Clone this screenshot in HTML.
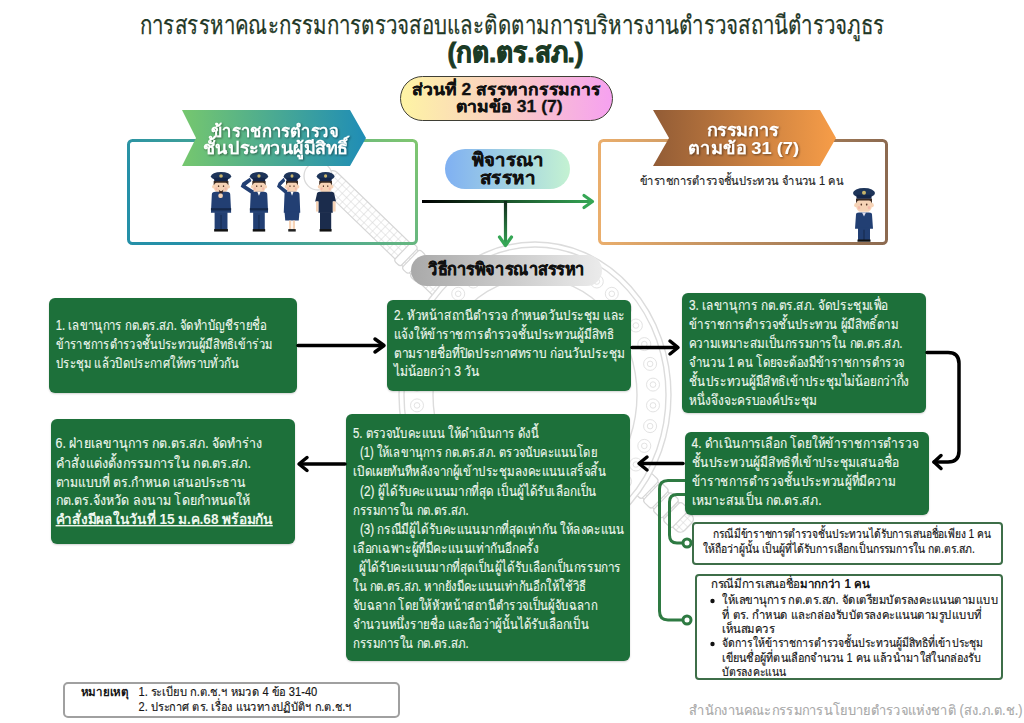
<!DOCTYPE html>
<html><head><meta charset="utf-8">
<style>
*{margin:0;padding:0;box-sizing:border-box}
html,body{width:1024px;height:723px;overflow:hidden;background:#fff}
body{position:relative;font-family:"Liberation Sans",sans-serif;color:#111}
.a{position:absolute}
.ln{position:absolute;white-space:nowrap;transform-origin:0 0}
.box{position:absolute;border-radius:6px;background:#1d703a;box-shadow:0 1px 2px rgba(0,0,0,.18)}
.wbox{position:absolute;background:#fff;border:2px solid #3d6e48;border-radius:4px}
</style></head><body>

<!-- watermark -->
<svg class="a" style="left:0;top:0" width="1024" height="723">
 <defs>
  <pattern id="net" width="6" height="6" patternUnits="userSpaceOnUse">
   <path d="M0,0 H6 M0,0 V6" stroke="#d4d4d4" stroke-width="1" fill="none"/>
  </pattern>
 </defs>
 <g transform="translate(325,176) rotate(44)">
  <rect x="0" y="-11" width="505" height="22" rx="6" fill="url(#net)" stroke="#d6d6d6" stroke-width="1.2"/>
  <rect x="108" y="-13" width="9" height="26" rx="3" fill="#fff" stroke="#d6d6d6" stroke-width="1.2"/>
  <rect x="119" y="-13" width="9" height="26" rx="3" fill="#fff" stroke="#d6d6d6" stroke-width="1.2"/>
  <rect x="130" y="-13" width="9" height="26" rx="3" fill="#fff" stroke="#d6d6d6" stroke-width="1.2"/>
  <rect x="440" y="-13" width="12" height="26" rx="3" fill="#fff" stroke="#d6d6d6" stroke-width="1.2"/>
  <rect x="454" y="-13" width="12" height="26" rx="3" fill="#fff" stroke="#d6d6d6" stroke-width="1.2"/>
  <rect x="468" y="-13" width="12" height="26" rx="3" fill="#fff" stroke="#d6d6d6" stroke-width="1.2"/>
  <rect x="482" y="-13" width="12" height="26" rx="3" fill="#fff" stroke="#d6d6d6" stroke-width="1.2"/>
 </g>
 <circle cx="318" cy="176" r="14" fill="#fff" stroke="#dadada" stroke-width="1.3"/>
 <ellipse cx="535" cy="395" rx="136" ry="153" fill="#fff"/>
 <g fill="none" stroke="#dcdcdc" stroke-width="1.4">
  <ellipse cx="535" cy="395" rx="136" ry="153"/>
  <ellipse cx="535" cy="395" rx="131" ry="148"/>
  <ellipse cx="535" cy="395" rx="102" ry="117"/>
 </g>
 <g fill="none" stroke="#e3e3e3" stroke-width="1"><circle cx="653.0" cy="405.4" r="6.5"/><circle cx="653.0" cy="405.4" r="2.8"/><circle cx="650.1" cy="426.1" r="6.5"/><circle cx="650.1" cy="426.1" r="2.8"/><circle cx="644.3" cy="445.9" r="6.5"/><circle cx="644.3" cy="445.9" r="2.8"/><circle cx="635.9" cy="464.5" r="6.5"/><circle cx="635.9" cy="464.5" r="2.8"/><circle cx="625.0" cy="481.4" r="6.5"/><circle cx="625.0" cy="481.4" r="2.8"/><circle cx="611.8" cy="496.2" r="6.5"/><circle cx="611.8" cy="496.2" r="2.8"/><circle cx="596.8" cy="508.5" r="6.5"/><circle cx="596.8" cy="508.5" r="2.8"/><circle cx="580.3" cy="518.0" r="6.5"/><circle cx="580.3" cy="518.0" r="2.8"/><circle cx="562.6" cy="524.4" r="6.5"/><circle cx="562.6" cy="524.4" r="2.8"/><circle cx="544.3" cy="527.7" r="6.5"/><circle cx="544.3" cy="527.7" r="2.8"/><circle cx="525.7" cy="527.7" r="6.5"/><circle cx="525.7" cy="527.7" r="2.8"/><circle cx="507.4" cy="524.4" r="6.5"/><circle cx="507.4" cy="524.4" r="2.8"/><circle cx="489.7" cy="518.0" r="6.5"/><circle cx="489.7" cy="518.0" r="2.8"/><circle cx="473.2" cy="508.5" r="6.5"/><circle cx="473.2" cy="508.5" r="2.8"/><circle cx="458.2" cy="496.2" r="6.5"/><circle cx="458.2" cy="496.2" r="2.8"/><circle cx="445.0" cy="481.4" r="6.5"/><circle cx="445.0" cy="481.4" r="2.8"/><circle cx="434.1" cy="464.5" r="6.5"/><circle cx="434.1" cy="464.5" r="2.8"/><circle cx="425.7" cy="445.9" r="6.5"/><circle cx="425.7" cy="445.9" r="2.8"/><circle cx="419.9" cy="426.1" r="6.5"/><circle cx="419.9" cy="426.1" r="2.8"/><circle cx="417.0" cy="405.4" r="6.5"/><circle cx="417.0" cy="405.4" r="2.8"/><circle cx="417.0" cy="384.6" r="6.5"/><circle cx="417.0" cy="384.6" r="2.8"/><circle cx="419.9" cy="363.9" r="6.5"/><circle cx="419.9" cy="363.9" r="2.8"/><circle cx="425.7" cy="344.1" r="6.5"/><circle cx="425.7" cy="344.1" r="2.8"/><circle cx="434.1" cy="325.5" r="6.5"/><circle cx="434.1" cy="325.5" r="2.8"/><circle cx="445.0" cy="308.6" r="6.5"/><circle cx="445.0" cy="308.6" r="2.8"/><circle cx="458.2" cy="293.8" r="6.5"/><circle cx="458.2" cy="293.8" r="2.8"/><circle cx="473.2" cy="281.5" r="6.5"/><circle cx="473.2" cy="281.5" r="2.8"/><circle cx="489.7" cy="272.0" r="6.5"/><circle cx="489.7" cy="272.0" r="2.8"/><circle cx="507.4" cy="265.6" r="6.5"/><circle cx="507.4" cy="265.6" r="2.8"/><circle cx="525.7" cy="262.3" r="6.5"/><circle cx="525.7" cy="262.3" r="2.8"/><circle cx="544.3" cy="262.3" r="6.5"/><circle cx="544.3" cy="262.3" r="2.8"/><circle cx="562.6" cy="265.6" r="6.5"/><circle cx="562.6" cy="265.6" r="2.8"/><circle cx="580.3" cy="272.0" r="6.5"/><circle cx="580.3" cy="272.0" r="2.8"/><circle cx="596.8" cy="281.5" r="6.5"/><circle cx="596.8" cy="281.5" r="2.8"/><circle cx="611.8" cy="293.8" r="6.5"/><circle cx="611.8" cy="293.8" r="2.8"/><circle cx="625.0" cy="308.6" r="6.5"/><circle cx="625.0" cy="308.6" r="2.8"/><circle cx="635.9" cy="325.5" r="6.5"/><circle cx="635.9" cy="325.5" r="2.8"/><circle cx="644.3" cy="344.1" r="6.5"/><circle cx="644.3" cy="344.1" r="2.8"/><circle cx="650.1" cy="363.9" r="6.5"/><circle cx="650.1" cy="363.9" r="2.8"/><circle cx="653.0" cy="384.6" r="6.5"/><circle cx="653.0" cy="384.6" r="2.8"/></g>
</svg>

<!-- pill1 -->
<div class="a" style="left:400px;top:76px;width:213px;height:45px;border:1.6px solid #3f3f35;border-radius:23px;background:linear-gradient(90deg,#fef4a4 0%,#f9cdc4 50%,#f6a1f0 100%)"></div>

<!-- left box -->
<svg class="a" style="left:125px;top:137px" width="295" height="110">
 <defs><linearGradient id="lbg" x1="0" x2="1" y1="0.3" y2="0"><stop offset="0" stop-color="#2590a8"/><stop offset="1" stop-color="#80c670"/></linearGradient></defs>
 <rect x="3.5" y="3.5" width="288" height="103" rx="4" fill="none" stroke="url(#lbg)" stroke-width="3"/>
</svg>
<svg class="a" style="left:182px;top:110px" width="184" height="56">
 <defs><linearGradient id="gl" x1="0" x2="1"><stop offset="0" stop-color="#76c76e"/><stop offset="1" stop-color="#1f8db6"/></linearGradient></defs>
 <polygon points="0,0 168,0 184,28 168,56 0,56 14,28" fill="url(#gl)"/>
</svg>

<!-- right box -->
<svg class="a" style="left:596px;top:137px" width="294" height="110">
 <defs><linearGradient id="rbg" x1="0" x2="1"><stop offset="0" stop-color="#eaae6c"/><stop offset="1" stop-color="#8c6a50"/></linearGradient></defs>
 <rect x="3.5" y="3.5" width="287" height="103" rx="4" fill="#fff" stroke="url(#rbg)" stroke-width="3"/>
</svg>
<svg class="a" style="left:653px;top:110px" width="183" height="56">
 <defs><linearGradient id="gr" x1="0" x2="1"><stop offset="0" stop-color="#925c36"/><stop offset="1" stop-color="#f79d48"/></linearGradient></defs>
 <polygon points="0,0 167,0 183,28 167,56 0,56 16,28" fill="url(#gr)"/>
</svg>


<!-- police figures -->
<svg class="a" style="left:0;top:0" width="1024" height="300">
 <defs>
  <g id="head">
   <rect x="4" y="7" width="16" height="11" rx="5" fill="#f6d3b6"/>
   <path d="M4,8 H20 V12 Q19,9.5 17,9.5 H7 Q5,9.5 4,12Z" fill="#3b2b22"/>
   <circle cx="3.8" cy="13" r="1.6" fill="#f6d3b6"/><circle cx="20.2" cy="13" r="1.6" fill="#f6d3b6"/>
   <ellipse cx="12" cy="3.8" rx="11" ry="3.8" fill="#1d3459"/>
   <rect x="4.5" y="5" width="15" height="3.2" rx="1" fill="#14264a"/>
   <ellipse cx="12" cy="3.6" rx="2" ry="1.5" fill="#c8b46a"/>
   <circle cx="9.3" cy="12.5" r="0.8" fill="#5a3a2a"/><circle cx="14.7" cy="12.5" r="0.8" fill="#5a3a2a"/>
   <circle cx="7" cy="14.8" r="1.3" fill="#f4aaa0" opacity=".6"/><circle cx="17" cy="14.8" r="1.3" fill="#f4aaa0" opacity=".6"/>
  </g>
  <path id="jk" d="M2,20 Q2,17.5 6,17.5 H18 Q22,17.5 22,20 L23,36 H1 Z" fill="#223f73"/>
 </defs>
 <!-- F1 -->
 <g transform="translate(210,172) scale(0.92,1.13)">
  <use href="#head"/><use href="#jk"/>
  <rect x="5" y="35.5" width="14" height="15.5" fill="#223f73"/><rect x="11.5" y="38" width="1" height="13" fill="#15284a"/>
  <rect x="4.5" y="50.5" width="15" height="2.2" fill="#111"/>
  <path d="M9.5,15.5 Q12,18.5 14.5,15.5 L13.5,19 H10.5Z" fill="#3a2520"/>
  <rect x="9" y="19" width="5" height="4" rx="2" fill="#f6d3b6"/>
  <rect x="1" y="32" width="22" height="2" fill="#15284a"/>
 </g>
 <!-- F2 -->
 <g transform="translate(249,172) scale(0.83,1.13)">
  <use href="#head"/><use href="#jk"/>
  <path d="M4,20 L-10,13 L-8,9.5 L1,5 L3,8 L-4,12 L6,16.5Z" fill="#223f73"/>
  <rect x="5" y="35.5" width="14" height="15.5" fill="#223f73"/><rect x="11.5" y="38" width="1" height="13" fill="#15284a"/>
  <rect x="4.5" y="50.5" width="15" height="2.2" fill="#111"/>
  <path d="M10,17.5 L12,21 L14,17.5Z" fill="#fff"/>
  <rect x="1" y="32" width="22" height="2" fill="#15284a"/>
 </g>
 <!-- F3 -->
 <g transform="translate(283,172) scale(0.75,1.13)">
  <use href="#head"/><use href="#jk"/>
  <path d="M4,20 L-8,13 L-6,9.5 L1,5 L3,8 L-3,12 L6,16.5Z" fill="#223f73"/>
  <path d="M2,35 H22 L21,43 H3Z" fill="#223f73"/>
  <rect x="8" y="43" width="3" height="8" fill="#f6d3b6"/><rect x="13" y="43" width="3" height="8" fill="#f6d3b6"/>
  <rect x="7" y="50.5" width="10" height="2.2" fill="#222"/>
  <path d="M10,17.5 L12,21 L14,17.5Z" fill="#fff"/>
 </g>
 <!-- F4 -->
 <g transform="translate(316,172) scale(0.8,1.13)">
  <use href="#head"/>
  <path d="M1,20 Q1,17.5 5,17.5 H19 Q23,17.5 23,20 L25,26 H21 L21,36 H3 L3,26 H-1Z" fill="#1b2c4c"/>
  <rect x="0" y="26" width="3" height="9" fill="#f6d3b6"/><rect x="21" y="26" width="3.5" height="9" fill="#f6d3b6"/>
  <rect x="5" y="35.5" width="14" height="15.5" fill="#1b2c4c"/>
  <rect x="4.5" y="50.5" width="15" height="2.2" fill="#111"/>
 </g>
 <!-- F5 -->
 <g transform="translate(852,188) scale(1,1.02)">
  <g transform="translate(0,0) scale(1,1.3)"><use href="#head"/></g>
  <path d="M4,26 Q4,24 7,24 H17 Q20,24 20,26 L21,40 H3 Z" fill="#223f73"/>
  <rect x="6" y="39" width="12" height="12" fill="#223f73"/><rect x="11.5" y="41" width="1" height="10" fill="#15284a"/>
  <rect x="5.5" y="50.5" width="13" height="2.2" fill="#111"/>
  <path d="M10,24 L12,28 L14,24Z" fill="#dde"/>
 </g>
</svg>

<!-- consider pill -->
<div class="a" style="left:445px;top:149px;width:125px;height:40px;border-radius:20px;background:linear-gradient(90deg,#7fb0f2,#c4f2d2)"></div>

<!-- arrows top -->
<svg class="a" style="left:0;top:0" width="1024" height="300">
 <defs>
  <linearGradient id="ah" x1="422" x2="593" gradientUnits="userSpaceOnUse"><stop offset="0" stop-color="#000"/><stop offset="1" stop-color="#35a655"/></linearGradient>
  <linearGradient id="av" x1="0" x2="0" y1="201" y2="246" gradientUnits="userSpaceOnUse"><stop offset="0" stop-color="#10281a"/><stop offset="1" stop-color="#35a655"/></linearGradient>
 </defs>
 <line x1="422" y1="201.5" x2="592" y2="201.5" stroke="url(#ah)" stroke-width="3.2"/>
 <polyline points="584,195.5 592.5,201.5 584,207.5" fill="none" stroke="#35a655" stroke-width="3.2" stroke-linecap="round" stroke-linejoin="round"/>
 <line x1="505.5" y1="201" x2="505.5" y2="245" stroke="url(#av)" stroke-width="3.2"/>
 <polyline points="499.5,237 505.5,245.5 511.5,237" fill="none" stroke="#35a655" stroke-width="3.2" stroke-linecap="round" stroke-linejoin="round"/>
</svg>

<!-- method pill -->
<div class="a" style="left:411px;top:254.5px;width:191px;height:31.5px;border-radius:16px;background:linear-gradient(90deg,#a9a9a9,#ebebeb)"></div>

<!-- green boxes -->
<div class="box" style="left:49px;top:298px;width:248px;height:95px"></div>
<div class="box" style="left:387px;top:300px;width:244px;height:91px"></div>
<div class="box" style="left:682px;top:293px;width:244px;height:120px"></div>
<div class="box" style="left:685px;top:432px;width:244px;height:83px"></div>
<div class="box" style="left:346px;top:414px;width:284px;height:247px"></div>
<div class="box" style="left:51px;top:419px;width:244px;height:125px"></div>

<!-- arrows between boxes -->
<svg class="a" style="left:0;top:280px" width="1024" height="420">
 <g fill="none" stroke="#000" stroke-width="3.5" stroke-linecap="round" stroke-linejoin="round">
  <line x1="298" y1="65.5" x2="383" y2="65.5"/><polyline points="375,59 384,65.5 375,72"/>
  <line x1="632" y1="67.5" x2="677" y2="67.5"/><polyline points="670,61 678,67.5 670,74"/>
  <path d="M927,72.5 H948 Q959,72.5 959,83.5 V171 Q959,182 948,182 H934"/><polyline points="941,175.5 934,182 941,188.5"/>
  <line x1="683" y1="183.5" x2="640" y2="183.5"/><polyline points="647,177 639,183.5 647,190"/>
  <line x1="345" y1="184" x2="300" y2="184"/><polyline points="307,177.5 299,184 307,190.5"/>
 </g>
 <g fill="none" stroke="#2e7a42" stroke-width="3">
  <path d="M685,200.5 H668 Q659.5,200.5 659.5,209 V331 Q659.5,340 668,340 H683"/>
  <path d="M685,214.5 H677 Q669.5,214.5 669.5,222 V255 Q669.5,263 677,263 H683"/>
  <circle cx="687" cy="263" r="4" fill="#fff"/>
  <circle cx="687" cy="340" r="4" fill="#fff"/>
 </g>
</svg>

<div class="wbox" style="left:692px;top:522px;width:311px;height:43px"></div>
<div class="wbox" style="left:695px;top:574px;width:308px;height:106px"></div>
<svg class="a" style="left:0;top:0" width="1024" height="723">
 <circle cx="712.5" cy="601" r="2.2" fill="#111"/>
 <circle cx="712.5" cy="644" r="2.2" fill="#111"/>
</svg>

<!-- note -->
<div class="a" style="left:63px;top:682px;width:337px;height:36px;border:2px solid #a0a0a0;border-radius:5px"></div>

<svg class="a" style="left:0;top:0" width="1024" height="723" font-family="Liberation Sans, sans-serif">
<defs><filter id="ds" x="-10%" y="-30%" width="120%" height="160%"><feDropShadow dx="1" dy="1" stdDeviation="0.8" flood-color="#000" flood-opacity="0.5"/></filter></defs>
<text x="140.2" y="33.9" font-size="25.5" fill="#1f3826" textLength="744.5" lengthAdjust="spacingAndGlyphs" stroke="#1f3826" stroke-width="0.25">การสรรหาคณะกรรมการตรวจสอบและติดตามการบริหารงานตำรวจสถานีตำรวจภูธร</text>
<text x="447.4" y="62.1" font-size="28" fill="#1b3b25" textLength="136.2" lengthAdjust="spacingAndGlyphs" font-weight="bold" stroke="#1b3b25" stroke-width="0.9">(กต.ตร.สภ.)</text>
<text x="412.3" y="95.0" font-size="16" fill="#111" textLength="188.5" lengthAdjust="spacingAndGlyphs" font-weight="bold" stroke="#111" stroke-width="0.3">ส่วนที่ 2 สรรหากรรมการ</text>
<text x="456.0" y="111.8" font-size="16" fill="#111" textLength="106.7" lengthAdjust="spacingAndGlyphs" font-weight="bold" stroke="#111" stroke-width="0.3">ตามข้อ 31 (7)</text>
<text x="210.6" y="136.5" font-size="17" fill="#fff" textLength="128.2" lengthAdjust="spacingAndGlyphs" font-weight="bold" filter="url(#ds)">ข้าราชการตำรวจ</text>
<text x="202.8" y="153.6" font-size="17" fill="#fff" textLength="145.2" lengthAdjust="spacingAndGlyphs" font-weight="bold" filter="url(#ds)">ชั้นประทวนผู้มีสิทธิ์</text>
<text x="706.6" y="136.3" font-size="17" fill="#fff" textLength="72.4" lengthAdjust="spacingAndGlyphs" font-weight="bold" filter="url(#ds)">กรรมการ</text>
<text x="688.4" y="154.0" font-size="17" fill="#fff" textLength="110.6" lengthAdjust="spacingAndGlyphs" font-weight="bold" filter="url(#ds)">ตามข้อ 31 (7)</text>
<text x="640.0" y="184.8" font-size="12" fill="#222" textLength="203.0" lengthAdjust="spacingAndGlyphs" stroke="#222" stroke-width="0.15">ข้าราชการตำรวจชั้นประทวน จำนวน 1 คน</text>
<text x="471.9" y="166.4" font-size="18" fill="#111" textLength="71.8" lengthAdjust="spacingAndGlyphs" font-weight="bold" stroke="#111" stroke-width="0.3">พิจารณา</text>
<text x="480.0" y="184.1" font-size="18" fill="#111" textLength="55.0" lengthAdjust="spacingAndGlyphs" font-weight="bold" stroke="#111" stroke-width="0.3">สรรหา</text>
<text x="428.0" y="274.8" font-size="17" fill="#111" textLength="157.0" lengthAdjust="spacingAndGlyphs" font-weight="bold" stroke="#111" stroke-width="0.4">วิธีการพิจารณาสรรหา</text>
<text x="55.8" y="330.4" font-size="14" fill="#eef7ee" textLength="211.0" lengthAdjust="spacingAndGlyphs" stroke="#eef7ee" stroke-width="0.15">1. เลขานุการ กต.ตร.สภ. จัดทำบัญชีรายชื่อ</text>
<text x="55.8" y="349.0" font-size="14" fill="#eef7ee" textLength="216.2" lengthAdjust="spacingAndGlyphs" stroke="#eef7ee" stroke-width="0.15">ข้าราชการตำรวจชั้นประทวนผู้มีสิทธิเข้าร่วม</text>
<text x="55.8" y="368.0" font-size="14" fill="#eef7ee" textLength="182.9" lengthAdjust="spacingAndGlyphs" stroke="#eef7ee" stroke-width="0.15">ประชุม แล้วปิดประกาศให้ทราบทั่วกัน</text>
<text x="394.0" y="320.0" font-size="14" fill="#eef7ee" textLength="231.0" lengthAdjust="spacingAndGlyphs" stroke="#eef7ee" stroke-width="0.15">2. หัวหน้าสถานีตำรวจ กำหนดวันประชุม และ</text>
<text x="394.0" y="339.0" font-size="14" fill="#eef7ee" textLength="220.0" lengthAdjust="spacingAndGlyphs" stroke="#eef7ee" stroke-width="0.15">แจ้งให้ข้าราชการตำรวจชั้นประทวนผู้มีสิทธิ</text>
<text x="394.0" y="358.0" font-size="14" fill="#eef7ee" textLength="231.0" lengthAdjust="spacingAndGlyphs" stroke="#eef7ee" stroke-width="0.15">ตามรายชื่อที่ปิดประกาศทราบ ก่อนวันประชุม</text>
<text x="394.0" y="376.0" font-size="14" fill="#eef7ee" textLength="86.0" lengthAdjust="spacingAndGlyphs" stroke="#eef7ee" stroke-width="0.15">ไม่น้อยกว่า 3 วัน</text>
<text x="689.0" y="310.0" font-size="14" fill="#eef7ee" textLength="199.0" lengthAdjust="spacingAndGlyphs" stroke="#eef7ee" stroke-width="0.15">3. เลขานุการ กต.ตร.สภ. จัดประชุมเพื่อ</text>
<text x="689.0" y="329.0" font-size="14" fill="#eef7ee" textLength="209.0" lengthAdjust="spacingAndGlyphs" stroke="#eef7ee" stroke-width="0.15">ข้าราชการตำรวจชั้นประทวน ผู้มีสิทธิ์ตาม</text>
<text x="689.0" y="348.0" font-size="14" fill="#eef7ee" textLength="213.5" lengthAdjust="spacingAndGlyphs" stroke="#eef7ee" stroke-width="0.15">ความเหมาะสมเป็นกรรมการใน กต.ตร.สภ.</text>
<text x="689.0" y="367.0" font-size="14" fill="#eef7ee" textLength="216.0" lengthAdjust="spacingAndGlyphs" stroke="#eef7ee" stroke-width="0.15">จำนวน 1 คน โดยจะต้องมีข้าราชการตำรวจ</text>
<text x="689.0" y="386.0" font-size="14" fill="#eef7ee" textLength="220.0" lengthAdjust="spacingAndGlyphs" stroke="#eef7ee" stroke-width="0.15">ชั้นประทวนผู้มีสิทธิเข้าประชุมไม่น้อยกว่ากึ่ง</text>
<text x="689.0" y="405.0" font-size="14" fill="#eef7ee" textLength="128.0" lengthAdjust="spacingAndGlyphs" stroke="#eef7ee" stroke-width="0.15">หนึ่งจึงจะครบองค์ประชุม</text>
<text x="691.5" y="448.0" font-size="14" fill="#eef7ee" textLength="226.9" lengthAdjust="spacingAndGlyphs" stroke="#eef7ee" stroke-width="0.15">4. ดำเนินการเลือก โดยให้ข้าราชการตำรวจ</text>
<text x="691.5" y="467.0" font-size="14" fill="#eef7ee" textLength="207.5" lengthAdjust="spacingAndGlyphs" stroke="#eef7ee" stroke-width="0.15">ชั้นประทวนผู้มีสิทธิที่เข้าประชุมเสนอชื่อ</text>
<text x="691.5" y="486.0" font-size="14" fill="#eef7ee" textLength="204.1" lengthAdjust="spacingAndGlyphs" stroke="#eef7ee" stroke-width="0.15">ข้าราชการตำรวจชั้นประทวนผู้ที่มีความ</text>
<text x="691.5" y="505.0" font-size="14" fill="#eef7ee" textLength="130.1" lengthAdjust="spacingAndGlyphs" stroke="#eef7ee" stroke-width="0.15">เหมาะสมเป็น กต.ตร.สภ.</text>
<text x="353.0" y="438.0" font-size="14" fill="#eef7ee" textLength="186.0" lengthAdjust="spacingAndGlyphs" stroke="#eef7ee" stroke-width="0.15">5. ตรวจนับคะแนน ให้ดำเนินการ ดังนี้</text>
<text x="360.0" y="456.5" font-size="14" fill="#eef7ee" textLength="237.0" lengthAdjust="spacingAndGlyphs" stroke="#eef7ee" stroke-width="0.15">(1) ให้เลขานุการ กต.ตร.สภ. ตรวจนับคะแนนโดย</text>
<text x="353.0" y="476.0" font-size="14" fill="#eef7ee" textLength="253.0" lengthAdjust="spacingAndGlyphs" stroke="#eef7ee" stroke-width="0.15">เปิดเผยทันทีหลังจากผู้เข้าประชุมลงคะแนนเสร็จสิ้น</text>
<text x="360.0" y="495.5" font-size="14" fill="#eef7ee" textLength="236.6" lengthAdjust="spacingAndGlyphs" stroke="#eef7ee" stroke-width="0.15">(2) ผู้ได้รับคะแนนมากที่สุด เป็นผู้ได้รับเลือกเป็น</text>
<text x="353.0" y="514.5" font-size="14" fill="#eef7ee" textLength="115.7" lengthAdjust="spacingAndGlyphs" stroke="#eef7ee" stroke-width="0.15">กรรมการใน กต.ตร.สภ.</text>
<text x="360.0" y="534.0" font-size="14" fill="#eef7ee" textLength="264.5" lengthAdjust="spacingAndGlyphs" stroke="#eef7ee" stroke-width="0.15">(3) กรณีมีผู้ได้รับคะแนนมากที่สุดเท่ากัน ให้ลงคะแนน</text>
<text x="353.0" y="552.5" font-size="14" fill="#eef7ee" textLength="186.0" lengthAdjust="spacingAndGlyphs" stroke="#eef7ee" stroke-width="0.15">เลือกเฉพาะผู้ที่มีคะแนนเท่ากันอีกครั้ง</text>
<text x="359.0" y="571.5" font-size="14" fill="#eef7ee" textLength="262.0" lengthAdjust="spacingAndGlyphs" stroke="#eef7ee" stroke-width="0.15">ผู้ได้รับคะแนนมากที่สุดเป็นผู้ได้รับเลือกเป็นกรรมการ</text>
<text x="353.0" y="591.0" font-size="14" fill="#eef7ee" textLength="233.5" lengthAdjust="spacingAndGlyphs" stroke="#eef7ee" stroke-width="0.15">ใน กต.ตร.สภ. หากยังมีคะแนนเท่ากันอีกให้ใช้วิธี</text>
<text x="353.0" y="609.5" font-size="14" fill="#eef7ee" textLength="244.0" lengthAdjust="spacingAndGlyphs" stroke="#eef7ee" stroke-width="0.15">จับฉลาก โดยให้หัวหน้าสถานีตำรวจเป็นผู้จับฉลาก</text>
<text x="353.0" y="629.0" font-size="14" fill="#eef7ee" textLength="236.0" lengthAdjust="spacingAndGlyphs" stroke="#eef7ee" stroke-width="0.15">จำนวนหนึ่งรายชื่อ และถือว่าผู้นั้นได้รับเลือกเป็น</text>
<text x="353.0" y="647.5" font-size="14" fill="#eef7ee" textLength="115.7" lengthAdjust="spacingAndGlyphs" stroke="#eef7ee" stroke-width="0.15">กรรมการใน กต.ตร.สภ.</text>
<text x="55.6" y="448.0" font-size="14" fill="#eef7ee" textLength="206.9" lengthAdjust="spacingAndGlyphs" stroke="#eef7ee" stroke-width="0.15">6. ฝ่ายเลขานุการ กต.ตร.สภ. จัดทำร่าง</text>
<text x="55.6" y="467.5" font-size="14" fill="#eef7ee" textLength="195.4" lengthAdjust="spacingAndGlyphs" stroke="#eef7ee" stroke-width="0.15">คำสั่งแต่งตั้งกรรมการใน กต.ตร.สภ.</text>
<text x="55.6" y="486.5" font-size="14" fill="#eef7ee" textLength="190.4" lengthAdjust="spacingAndGlyphs" stroke="#eef7ee" stroke-width="0.15">ตามแบบที่ ตร.กำหนด เสนอประธาน</text>
<text x="55.6" y="505.0" font-size="14" fill="#eef7ee" textLength="194.4" lengthAdjust="spacingAndGlyphs" stroke="#eef7ee" stroke-width="0.15">กต.ตร.จังหวัด ลงนาม โดยกำหนดให้</text>
<text x="55.6" y="524.0" font-size="14" fill="#eef7ee" textLength="217.2" lengthAdjust="spacingAndGlyphs" font-weight="bold" text-decoration="underline">คำสั่งมีผลในวันที่ 15 ม.ค.68 พร้อมกัน</text>
<text x="713.4" y="538.4" font-size="12" fill="#151515" textLength="277.4" lengthAdjust="spacingAndGlyphs" stroke="#151515" stroke-width="0.15">กรณีมีข้าราชการตำรวจชั้นประทวนได้รับการเสนอชื่อเพียง 1 คน</text>
<text x="702.5" y="552.7" font-size="12" fill="#151515" textLength="272.5" lengthAdjust="spacingAndGlyphs" stroke="#151515" stroke-width="0.15">ให้ถือว่าผู้นั้น เป็นผู้ที่ได้รับการเลือกเป็นกรรมการใน กต.ตร.สภ.</text>
<text x="711.0" y="588.2" font-size="12" fill="#151515" textLength="158.3" lengthAdjust="spacingAndGlyphs" stroke="#151515" stroke-width="0.15">กรณีมีการเสนอชื่อ<tspan font-weight="bold" stroke="none">มากกว่า 1 คน</tspan></text>
<text x="722.0" y="604.3" font-size="12" fill="#151515" textLength="276.0" lengthAdjust="spacingAndGlyphs" stroke="#151515" stroke-width="0.15">ให้เลขานุการ กต.ตร.สภ. จัดเตรียมบัตรลงคะแนนตามแบบ</text>
<text x="722.0" y="618.6" font-size="12" fill="#151515" textLength="260.0" lengthAdjust="spacingAndGlyphs" stroke="#151515" stroke-width="0.15">ที่ ตร. กำหนด และกล่องรับบัตรลงคะแนนตามรูปแบบที่</text>
<text x="722.0" y="632.9" font-size="12" fill="#151515" textLength="52.6" lengthAdjust="spacingAndGlyphs" stroke="#151515" stroke-width="0.15">เห็นสมควร</text>
<text x="722.0" y="647.4" font-size="12" fill="#151515" textLength="261.0" lengthAdjust="spacingAndGlyphs" stroke="#151515" stroke-width="0.15">จัดการให้ข้าราชการตำรวจชั้นประทวนผู้มีสิทธิที่เข้าประชุม</text>
<text x="722.0" y="661.9" font-size="12" fill="#151515" textLength="259.0" lengthAdjust="spacingAndGlyphs" stroke="#151515" stroke-width="0.15">เขียนชื่อผู้ที่ตนเลือกจำนวน 1 คน แล้วนำมาใส่ในกล่องรับ</text>
<text x="722.0" y="676.4" font-size="12" fill="#151515" textLength="63.7" lengthAdjust="spacingAndGlyphs" stroke="#151515" stroke-width="0.15">บัตรลงคะแนน</text>
<text x="80.7" y="695.8" font-size="12" fill="#151515" textLength="48.1" lengthAdjust="spacingAndGlyphs" font-weight="bold">หมายเหตุ</text>
<text x="138.5" y="695.8" font-size="12" fill="#151515" textLength="178.8" lengthAdjust="spacingAndGlyphs" stroke="#151515" stroke-width="0.15">1. ระเบียบ ก.ต.ช.ฯ หมวด 4 ข้อ 31-40</text>
<text x="138.5" y="711.4" font-size="12" fill="#151515" textLength="213.2" lengthAdjust="spacingAndGlyphs" stroke="#151515" stroke-width="0.15">2. ประกาศ ตร. เรื่อง แนวทางปฏิบัติฯ ก.ต.ช.ฯ</text>
<text x="689.0" y="715.0" font-size="14" fill="#a9a9a9" textLength="333.6" lengthAdjust="spacingAndGlyphs" stroke="#a9a9a9" stroke-width="0.15">สำนักงานคณะกรรมการนโยบายตำรวจแห่งชาติ (สง.ภ.ต.ช.)</text>
</svg>

</body></html>
